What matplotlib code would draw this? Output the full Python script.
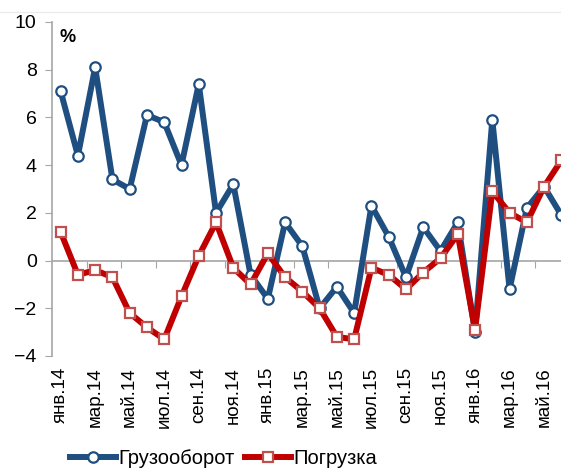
import matplotlib
matplotlib.use("Agg")
import matplotlib.pyplot as plt
from matplotlib.lines import Line2D

plt.rcParams['font.family'] = ['Liberation Sans', 'DejaVu Sans']

# months Jan 2014 .. Jun 2016
months = ['янв.14', 'фев.14', 'мар.14', 'апр.14', 'май.14', 'июн.14',
          'июл.14', 'авг.14', 'сен.14', 'окт.14', 'ноя.14', 'дек.14',
          'янв.15', 'фев.15', 'мар.15', 'апр.15', 'май.15', 'июн.15',
          'июл.15', 'авг.15', 'сен.15', 'окт.15', 'ноя.15', 'дек.15',
          'янв.16', 'фев.16', 'мар.16', 'апр.16', 'май.16', 'июн.16']

# грузооборот, % г/г
turnover = [7.1, 4.4, 8.1, 3.4, 3.0, 6.1, 5.8, 4.0, 7.4, 2.0, 3.2, -0.6,
            -1.6, 1.6, 0.6, -2.0, -1.1, -2.2, 2.3, 1.0, -0.7, 1.4, 0.4, 1.6,
            -3.0, 5.9, -1.2, 2.2, 3.1, 1.9]
# погрузка, % г/г
loading = [1.2, -0.6, -0.4, -0.7, -2.2, -2.8, -3.3, -1.5, 0.2, 1.6, -0.3, -1.0,
           0.3, -0.7, -1.3, -2.0, -3.2, -3.3, -0.3, -0.6, -1.2, -0.5, 0.1, 1.1,
           -2.9, 2.9, 2.0, 1.6, 3.1, 4.2]

blue = '#1F4E80'
red = '#C00000'
grey = '#A6A6A6'

x = list(range(len(months)))

fig = plt.figure(figsize=(5.61, 4.68), dpi=100)
# plot area runs past the right edge of the picture, as in the source
ax = fig.add_axes([52 / 561, 112 / 468, 518 / 561, 334 / 468])

ax.plot(x, turnover, color=blue, lw=4.3, marker='o', ms=7.5,
        mfc='white', mec=blue, mew=1.6, label='Грузооборот', zorder=3)
ax.plot(x, loading, color=red, lw=4.3, marker='s', ms=7.5,
        mfc='white', mec='#C0504D', mew=1.6, label='Погрузка', zorder=4)

ax.set_ylim(-4, 10)
ax.set_xlim(-0.5, len(months) - 0.5)
ax.set_yticks(range(-4, 11, 2))
ax.tick_params(axis='y', direction='out', length=5, color=grey,
               labelsize=14, pad=6)

ax.set_xticks(x[::2])
ax.set_xticklabels(months[::2], rotation=90)
ax.tick_params(axis='x', length=0, labelsize=13.5, pad=8)

for s in ['top', 'right', 'bottom']:
    ax.spines[s].set_visible(False)
ax.spines['left'].set_color(grey)
ax.spines['left'].set_linewidth(1.2)

# category axis drawn through zero, with ticks between categories
zero_ax = ax.secondary_xaxis(4 / 14)
zero_ax.set_xticks([i + 1.5 for i in x[::2]])
zero_ax.set_xticklabels([])
zero_ax.tick_params(direction='out', length=5, color=grey)
zero_ax.spines['bottom'].set_color(grey)
zero_ax.spines['bottom'].set_linewidth(1.2)

ax.text(0.015, 0.955, '%', transform=ax.transAxes, fontsize=13,
        fontweight='bold', va='center')

fig.legend(loc='lower left', bbox_to_anchor=(62 / 561, -0.018), ncol=2,
           frameon=False, fontsize=14.5, handlelength=2.3, handletextpad=0.1,
           columnspacing=0.5, borderaxespad=0)

fig.add_artist(Line2D([0, 1], [1 - 12 / 468, 1 - 12 / 468],
                      color='#EBEBEB', lw=1))

fig.savefig('out.png', dpi=100)
